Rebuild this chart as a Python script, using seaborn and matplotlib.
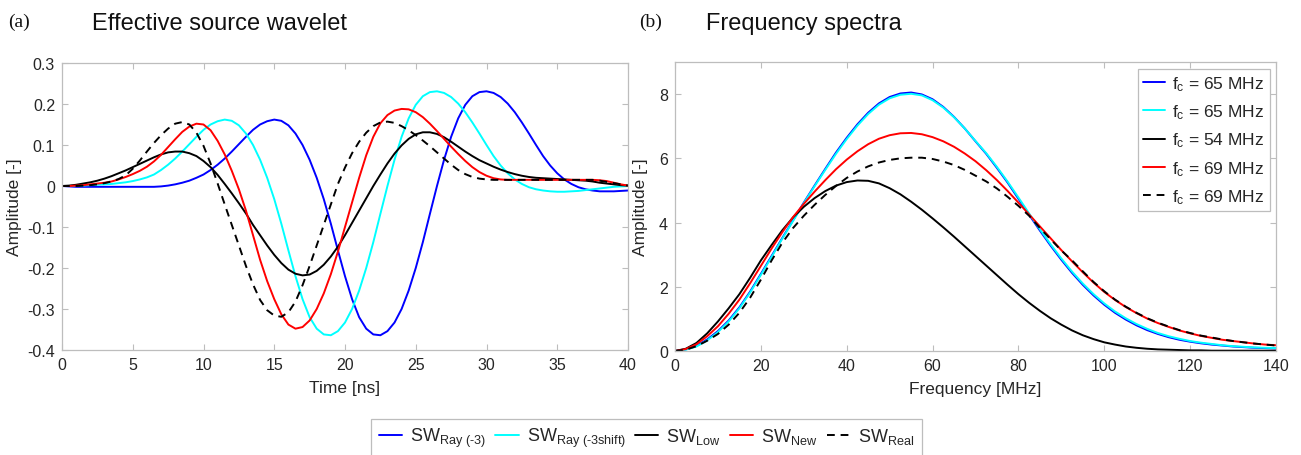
import numpy as np
import pandas as pd
import matplotlib
matplotlib.use("Agg")
import matplotlib.pyplot as plt
import seaborn as sns

# ---------------- data: (a) effective source wavelet ----------------
time_ns = [i * 0.5 for i in range(81)]

sw_ray3 = [0.000, -0.001, -0.002, -0.002, -0.002, -0.002, -0.002, -0.002, -0.002, -0.002,
           -0.002, -0.002, -0.002, -0.002, -0.001, 0.001, 0.004, 0.008, 0.013, 0.020,
           0.028, 0.039, 0.052, 0.067, 0.084, 0.102, 0.120, 0.137, 0.150, 0.158,
           0.162, 0.159, 0.148, 0.128, 0.100, 0.064, 0.020, -0.032, -0.092, -0.157,
           -0.220, -0.276, -0.320, -0.348, -0.362, -0.364, -0.354, -0.333, -0.300, -0.255,
           -0.200, -0.137, -0.068, 0.000, 0.064, 0.120, 0.165, 0.198, 0.219, 0.229,
           0.231, 0.227, 0.217, 0.201, 0.180, 0.155, 0.128, 0.100, 0.073, 0.050,
           0.031, 0.016, 0.005, -0.003, -0.008, -0.011, -0.013, -0.013, -0.013, -0.012,
           -0.011]

sw_ray3shift = [0.000, 0.000, 0.001, 0.001, 0.002, 0.003, 0.004, 0.005, 0.007, 0.009,
                0.012, 0.016, 0.021, 0.028, 0.039, 0.052, 0.067, 0.084, 0.102, 0.120,
                0.137, 0.150, 0.158, 0.162, 0.159, 0.148, 0.128, 0.100, 0.064, 0.020,
                -0.032, -0.092, -0.157, -0.220, -0.276, -0.320, -0.348, -0.362, -0.364, -0.354,
                -0.333, -0.300, -0.255, -0.200, -0.137, -0.068, 0.000, 0.064, 0.120, 0.165,
                0.198, 0.219, 0.229, 0.231, 0.227, 0.217, 0.201, 0.180, 0.155, 0.128,
                0.100, 0.073, 0.050, 0.031, 0.016, 0.005, -0.003, -0.008, -0.011, -0.013,
                -0.014, -0.014, -0.013, -0.012, -0.010, -0.008, -0.006, -0.004, -0.002, -0.001,
                0.000]

sw_low = [0.000, 0.001, 0.003, 0.006, 0.009, 0.013, 0.018, 0.024, 0.031, 0.038,
          0.046, 0.054, 0.062, 0.070, 0.077, 0.082, 0.084, 0.084, 0.080, 0.073,
          0.061, 0.046, 0.027, 0.005, -0.018, -0.042, -0.067, -0.095, -0.120, -0.145,
          -0.168, -0.188, -0.204, -0.214, -0.218, -0.216, -0.207, -0.192, -0.172, -0.148,
          -0.120, -0.090, -0.060, -0.030, 0.000, 0.028, 0.055, 0.079, 0.099, 0.115,
          0.126, 0.131, 0.131, 0.127, 0.119, 0.108, 0.096, 0.084, 0.073, 0.063,
          0.055, 0.047, 0.040, 0.034, 0.029, 0.025, 0.022, 0.020, 0.019, 0.018,
          0.017, 0.016, 0.015, 0.014, 0.013, 0.011, 0.008, 0.006, 0.004, 0.002,
          0.001]

sw_new = [0.000, 0.000, 0.001, 0.002, 0.004, 0.006, 0.008, 0.011, 0.016, 0.022,
          0.029, 0.037, 0.047, 0.060, 0.076, 0.095, 0.114, 0.132, 0.145, 0.152,
          0.150, 0.136, 0.110, 0.077, 0.037, -0.008, -0.060, -0.120, -0.180, -0.232,
          -0.276, -0.313, -0.338, -0.348, -0.344, -0.328, -0.300, -0.262, -0.215, -0.160,
          -0.100, -0.040, 0.020, 0.075, 0.120, 0.153, 0.173, 0.184, 0.188, 0.187,
          0.180, 0.168, 0.152, 0.134, 0.115, 0.096, 0.078, 0.061, 0.046, 0.034,
          0.025, 0.019, 0.016, 0.015, 0.015, 0.015, 0.015, 0.015, 0.015, 0.015,
          0.015, 0.015, 0.015, 0.015, 0.015, 0.015, 0.014, 0.012, 0.008, 0.004,
          0.001]

sw_real = [0.000, 0.000, 0.000, 0.001, 0.002, 0.004, 0.007, 0.011, 0.017, 0.026,
           0.042, 0.062, 0.084, 0.105, 0.124, 0.140, 0.152, 0.156, 0.150, 0.130,
           0.098, 0.055, 0.006, -0.045, -0.095, -0.145, -0.195, -0.240, -0.278, -0.303,
           -0.316, -0.319, -0.308, -0.282, -0.242, -0.195, -0.145, -0.095, -0.045, 0.005,
           0.045, 0.080, 0.108, 0.130, 0.146, 0.155, 0.157, 0.154, 0.146, 0.136,
           0.124, 0.111, 0.097, 0.082, 0.067, 0.052, 0.039, 0.029, 0.022, 0.018,
           0.016, 0.015, 0.015, 0.015, 0.015, 0.015, 0.015, 0.015, 0.015, 0.015,
           0.015, 0.015, 0.015, 0.015, 0.015, 0.015, 0.013, 0.010, 0.007, 0.004,
           0.001]

# ---------------- data: (b) frequency spectra ----------------
freq_mhz = [i * 2.5 for i in range(57)]

spec_ray3 = [0.00, 0.05, 0.16, 0.36, 0.62, 0.95, 1.36, 1.85, 2.40, 2.96,
             3.52, 4.07, 4.62, 5.15, 5.67, 6.18, 6.64, 7.06, 7.42, 7.71,
             7.91, 8.02, 8.05, 7.99, 7.84, 7.60, 7.29, 6.93, 6.53, 6.14,
             5.70, 5.24, 4.74, 4.24, 3.75, 3.28, 2.84, 2.43, 2.06, 1.73,
             1.44, 1.19, 0.98, 0.80, 0.65, 0.53, 0.43, 0.35, 0.29, 0.24,
             0.20, 0.17, 0.14, 0.12, 0.10, 0.09, 0.08]

spec_ray3shift = [0.00, 0.04, 0.14, 0.33, 0.59, 0.92, 1.33, 1.82, 2.37, 2.93,
                  3.50, 4.05, 4.60, 5.13, 5.64, 6.14, 6.60, 7.02, 7.38, 7.67,
                  7.87, 7.98, 8.01, 7.96, 7.81, 7.58, 7.28, 6.93, 6.54, 6.16,
                  5.73, 5.27, 4.78, 4.28, 3.79, 3.32, 2.88, 2.47, 2.10, 1.77,
                  1.48, 1.23, 1.02, 0.84, 0.69, 0.56, 0.46, 0.38, 0.31, 0.26,
                  0.22, 0.18, 0.15, 0.13, 0.11, 0.10, 0.09]

spec_low = [0.00, 0.07, 0.25, 0.55, 0.92, 1.33, 1.77, 2.28, 2.82, 3.30,
            3.76, 4.16, 4.49, 4.76, 4.98, 5.15, 5.26, 5.31, 5.30, 5.22,
            5.07, 4.88, 4.65, 4.40, 4.13, 3.85, 3.56, 3.26, 2.96, 2.66,
            2.36, 2.06, 1.77, 1.50, 1.25, 1.02, 0.82, 0.64, 0.49, 0.37,
            0.27, 0.20, 0.14, 0.10, 0.07, 0.05, 0.04, 0.03, 0.02, 0.02,
            0.01, 0.01, 0.01, 0.01, 0.01, 0.01, 0.01]

spec_new = [0.00, 0.06, 0.21, 0.46, 0.77, 1.16, 1.60, 2.11, 2.65, 3.19,
            3.70, 4.17, 4.58, 4.96, 5.32, 5.66, 5.96, 6.22, 6.44, 6.61,
            6.72, 6.78, 6.79, 6.75, 6.66, 6.53, 6.36, 6.15, 5.91, 5.63,
            5.32, 4.98, 4.62, 4.25, 3.88, 3.51, 3.14, 2.79, 2.45, 2.13,
            1.84, 1.59, 1.37, 1.18, 1.01, 0.87, 0.75, 0.64, 0.55, 0.47,
            0.41, 0.35, 0.31, 0.27, 0.23, 0.20, 0.18]

spec_real = [0.00, 0.04, 0.15, 0.32, 0.53, 0.82, 1.19, 1.66, 2.22, 2.82,
             3.37, 3.83, 4.21, 4.55, 4.86, 5.14, 5.39, 5.59, 5.75, 5.87,
             5.95, 6.00, 6.02, 6.02, 5.98, 5.90, 5.79, 5.64, 5.46, 5.28,
             5.06, 4.80, 4.52, 4.21, 3.83, 3.48, 3.13, 2.82, 2.48, 2.15,
             1.86, 1.60, 1.38, 1.19, 1.02, 0.88, 0.76, 0.65, 0.56, 0.48,
             0.42, 0.36, 0.31, 0.27, 0.23, 0.20, 0.17]

wavelet_labels = ["SW$_{\\mathrm{Ray\\ (\u20103)}}$", "SW$_{\\mathrm{Ray\\ (\u20103shift)}}$",
                  "SW$_{\\mathrm{Low}}$", "SW$_{\\mathrm{New}}$", "SW$_{\\mathrm{Real}}$"]
spectrum_labels = [r"f$_{\mathrm{c}}$ = 65 MHz", r"f$_{\mathrm{c}}$ = 65 MHz",
                   r"f$_{\mathrm{c}}$ = 54 MHz", r"f$_{\mathrm{c}}$ = 69 MHz",
                   r"f$_{\mathrm{c}}$ = 69 MHz"]

# ---------------- styling ----------------
sns.set_theme(style="white")
plt.rcParams["font.family"] = ["Liberation Sans", "DejaVu Sans"]
plt.rcParams["mathtext.fontset"] = "custom"
plt.rcParams["mathtext.rm"] = "Liberation Sans"
plt.rcParams["mathtext.it"] = "Liberation Sans"
plt.rcParams["axes.unicode_minus"] = False

colors = ["#0000ff", "#00ffff", "#000000", "#ff0000", "#000000"]
styles = ["-", "-", "-", "-", "--"]
LW = 1.4
frame_col = "#bdbdbd"
text_col = "#262626"

fig = plt.figure(figsize=(13.01, 4.56), dpi=100)
ax1 = fig.add_axes([62 / 1301, 1 - 351 / 456, 566 / 1301, 287 / 456])
ax2 = fig.add_axes([675 / 1301, 1 - 352 / 456, 601 / 1301, 289 / 456])

wave_series = [sw_ray3, sw_ray3shift, sw_low, sw_new, sw_real]
spec_series = [spec_ray3, spec_ray3shift, spec_low, spec_new, spec_real]

for y, c, lab in zip(wave_series, colors, wavelet_labels):
    df = pd.DataFrame({"t": time_ns, "a": y})
    sns.lineplot(data=df, x="t", y="a", ax=ax1, color=c, linewidth=LW,
                 estimator=None, sort=False, label=lab)
for line, ls in zip(ax1.get_lines(), styles):
    if ls == "--":
        line.set_linestyle("--")
        line.set_dashes((4, 3))

for y, c, lab in zip(spec_series, colors, spectrum_labels):
    df = pd.DataFrame({"f": freq_mhz, "a": y})
    sns.lineplot(data=df, x="f", y="a", ax=ax2, color=c, linewidth=LW,
                 estimator=None, sort=False, label=lab)
for line, ls in zip(ax2.get_lines(), styles):
    if ls == "--":
        line.set_linestyle("--")
        line.set_dashes((4, 3))

# axes (a)
ax1.set_xlim(0, 40)
ax1.set_ylim(-0.4, 0.3)
ax1.set_xticks(np.arange(0, 41, 5))
yt = [-0.4, -0.3, -0.2, -0.1, 0, 0.1, 0.2, 0.3]
ax1.set_yticks(yt)
ax1.set_yticklabels(["-0.4", "-0.3", "-0.2", "-0.1", "0", "0.1", "0.2", "0.3"])
ax1.set_xlabel("Time [ns]", fontsize=12.5, color=text_col, labelpad=6)
ax1.set_ylabel("Amplitude [-]", fontsize=12.5, color=text_col, labelpad=4)

# axes (b)
ax2.set_xlim(0, 140)
ax2.set_ylim(0, 9)
ax2.set_xticks(np.arange(0, 141, 20))
ax2.set_yticks([0, 2, 4, 6, 8])
ax2.set_xlabel("Frequency [MHz]", fontsize=12.5, color=text_col, labelpad=6)
ax2.set_ylabel("Amplitude [-]", fontsize=12.5, color=text_col, labelpad=8)

for ax in (ax1, ax2):
    for sp in ax.spines.values():
        sp.set_visible(True)
        sp.set_color(frame_col)
        sp.set_linewidth(0.9)
    ax.tick_params(direction="in", length=4.5, width=0.8, color=frame_col,
                   top=True, right=True, bottom=True, left=True,
                   labelsize=11.5, labelcolor=text_col, pad=5)
    ax.grid(False)

# legends
leg_b = ax2.legend(loc="upper right", bbox_to_anchor=((1270 - 675) / 601, (352 - 70) / 289),
                   fontsize=12.5, frameon=True, fancybox=False,
                   edgecolor=frame_col, framealpha=1, handlelength=1.3,
                   handletextpad=0.4, labelspacing=0.55, borderpad=0.3,
                   borderaxespad=0.0)
leg_b.get_frame().set_linewidth(0.9)

h, l = ax1.get_legend_handles_labels()
ax1.get_legend().remove()
leg_a = fig.legend(h, l, loc="upper center", bbox_to_anchor=(0.497, 1 - 420 / 456),
                   ncol=5, fontsize=13, frameon=True, fancybox=False,
                   edgecolor=frame_col, framealpha=1, handlelength=1.3,
                   handletextpad=0.45, columnspacing=0.5, borderpad=0.4,
                   borderaxespad=0.0)
leg_a.get_frame().set_linewidth(0.9)

# titles and panel letters
fig.text(8 / 1301, 1 - 22 / 456, "(a)", fontsize=14, family="Liberation Serif",
         va="center", ha="left", color="#111111")
fig.text(92 / 1301, 1 - 24 / 456, "Effective source wavelet", fontsize=17,
         va="center", ha="left", color="#111111")
fig.text(639 / 1301, 1 - 22 / 456, "(b)", fontsize=14, family="Liberation Serif",
         va="center", ha="left", color="#111111")
fig.text(706 / 1301, 1 - 24 / 456, "Frequency spectra", fontsize=17,
         va="center", ha="left", color="#111111")

fig.savefig("out.png", dpi=100)
